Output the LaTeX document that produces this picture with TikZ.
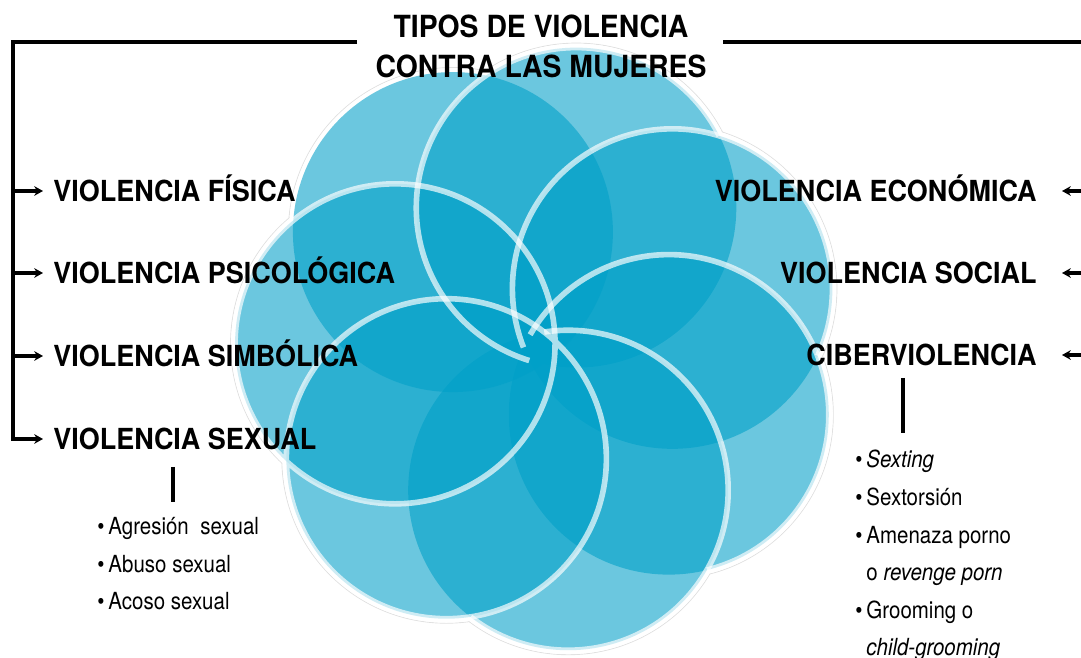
\documentclass[tikz,border=0pt]{standalone}
\usepackage{fontspec}
\setmainfont{TeX Gyre Heros}[FakeStretch=0.93]
\newfontfamily\listafont{TeX Gyre Heros}[FakeStretch=0.87]
\usetikzlibrary{arrows.meta}
\definecolor{petalo}{RGB}{0,160,200}

\begin{document}
\begin{tikzpicture}[x=0.2mm, y=0.2mm,
    tipo/.style={font=\bfseries\fontsize{16.5}{19}\selectfont, inner sep=0pt, text height=11.9pt, text depth=0pt},
    lista/.style={font=\listafont\fontsize{13.4}{21.4}\selectfont, align=left, inner sep=0pt},
    linea/.style={line width=1.8pt},
    flecha/.style={linea, -{Stealth[length=5pt, width=5.5pt]}},
    borde/.style={white, opacity=0.68, line width=3.2pt}]
    \useasboundingbox (0,0) rectangle (1081,658);

    % centros de los siete circulos
    \foreach \k in {0,...,6}
        \path (540,310) ++({75.5-51.43*\k}:145) coordinate (c\k);

    % contorno gris y fondo blanco
    \foreach \k in {0,...,6}
        \draw[black!12, line width=0.5pt] (c\k) circle (164.5);
    \foreach \k in {0,...,6}
        \fill[white] (c\k) circle (164);

    % roseton
    \foreach \k in {0,...,6}
        \fill[petalo, opacity=0.58] (c\k) circle (160);

    % bordes blancos
    \foreach \k in {0,...,3}
        \draw[borde] (c\k) ++({26.7-51.43*\k}:160) arc[start angle={26.7-51.43*\k}, delta angle=226.2, radius=160];
    \draw[borde] (c4) circle (160) (c5) circle (160);

    % titulo
    \node[font=\bfseries\fontsize{17.35}{22.7}\selectfont, align=center, inner sep=0pt] (titulo) at (541,612) {TIPOS DE VIOLENCIA\\CONTRA LAS MUJERES};

    % tipos a la izquierda
    \node[tipo, anchor=west] (fisica) at (53,467) {VIOLENCIA FÍSICA};
    \node[tipo, anchor=west] (psico) at (53,385) {VIOLENCIA PSICOLÓGICA};
    \node[tipo, anchor=west] (simbolica) at (53,302) {VIOLENCIA SIMBÓLICA};
    \node[tipo, anchor=west] (sexual) at (53,219) {VIOLENCIA SEXUAL};

    % tipos a la derecha
    \node[tipo, anchor=east] (economica) at (1037,467) {VIOLENCIA ECONÓMICA};
    \node[tipo, anchor=east] (social) at (1037,385) {VIOLENCIA SOCIAL};
    \node[tipo, anchor=east] (ciber) at (1037,303) {CIBERVIOLENCIA};

    % listas
    \node[lista, anchor=north west] (listaS) at (97,141) {\textbullet\,Agresión\ \ sexual\\\textbullet\,Abuso sexual\\\textbullet\,Acoso sexual};
    \node[lista, anchor=north west] (listaC) at (855,208) {\textbullet\,\textit{Sexting}\\\textbullet\,Sextorsión\\\textbullet\,Amenaza porno\\\hphantom{\textbullet\,}o \textit{revenge porn}\\\textbullet\,Grooming o\\\hphantom{\textbullet\,}\textit{child-grooming}};

    % llaves y flechas
    \coordinate (esqL) at (13,616);
    \coordinate (finL) at (357,616);
    \coordinate (iniR) at (723,616);
    \coordinate (esqR) at (1090,616);
    \draw[flecha, shorten >=2mm] (finL) -- (esqL) |- (sexual);
    \foreach \n in {fisica, psico, simbolica}
        \draw[flecha, shorten >=2mm] (esqL |- \n) -- (\n);
    \draw[linea] (iniR) -- (esqR);
    \foreach \n in {economica, social, ciber}
        \draw[flecha, shorten >=5mm] (esqR |- \n) -- (\n);

    % barras hacia las listas
    \coordinate (barS1) at (173,191);
    \coordinate (barS2) at (173,156);
    \coordinate (barC1) at (903,280);
    \coordinate (barC2) at (903,225);
    \draw[linea] (barS1) -- (barS2);
    \draw[linea] (barC1) -- (barC2);
\end{tikzpicture}
\end{document}
